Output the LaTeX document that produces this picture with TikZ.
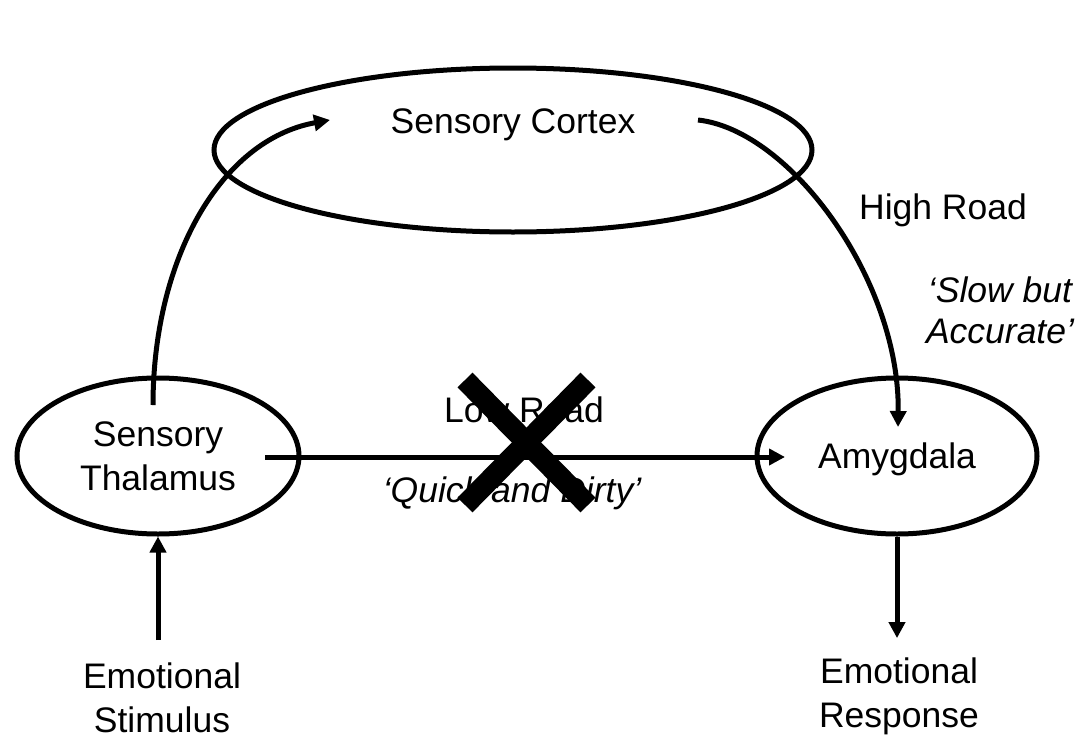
\documentclass[tikz,border=0pt]{standalone}
\usepackage{fontspec}
\setmainfont{Liberation Sans}
\usetikzlibrary{arrows.meta,shapes.geometric}
\begin{document}
\begin{tikzpicture}[x=1pt,y=-1pt,
  every node/.style={font=\fontsize{35.5}{44}\selectfont, inner sep=0pt},
  region/.style={draw, line width=5pt, ellipse, inner sep=0pt, align=center},
  conn/.style={line width=5pt, -{Triangle[length=16pt,width=16pt]}},
  lbl/.style={anchor=base, align=center},
  itl/.style={font=\fontsize{35.5}{41}\selectfont\itshape},
  cross/.style={line width=21pt}
]
\useasboundingbox (0,0) rectangle (1080,739);
% regions
\node[region, minimum width=598pt, minimum height=164pt] (cortex) at (513,150) {};
\node[lbl] (ctxt) at (513,133) {Sensory Cortex};
\node[region, minimum width=282pt, minimum height=156pt] (thal) at (158,456) {Sensory\\Thalamus};
\node[region, minimum width=280pt, minimum height=156pt, text depth=0pt] (amy) at (897,456) {Amygdala};
% labels (multi-line labels are anchored at the baseline of their last line)
\node[lbl] (low) at (524,422) {Low Road};
\node[lbl, itl] (quick) at (512,502) {‘Quick and Dirty’};
\node[lbl] (high) at (943,219) {High Road};
\node[lbl, itl] (slow) at (1000,343) {‘Slow but\\Accurate’};
\node[lbl] (stim) at (162,732) {Emotional\\Stimulus};
\node[lbl] (resp) at (899,727) {Emotional\\Response};
% connectors
\coordinate (h1) at (153,405);
\coordinate (h2) at (330,120);
\draw[conn] (h1) .. controls (153,260) and (220,140) .. (h2);
\coordinate (h3) at (698,120);
\coordinate (h4) at (898,427);
\draw[conn] (h3) .. controls (790,130) and (900,280) .. (h4);
\coordinate (l1) at (265,457);
\coordinate (l2) at (785,457);
\draw[conn] (l1) -- (l2);
\draw[conn, shorten <=22pt] (thal.south |- stim.north) -- (thal.south);
\draw[conn, shorten >=19pt] (amy.south) -- (amy.south |- resp.north);
% cross
\draw[cross] (465,380) -- (588,505);
\draw[cross] (588,380) -- (465,505);
\end{tikzpicture}
\end{document}
